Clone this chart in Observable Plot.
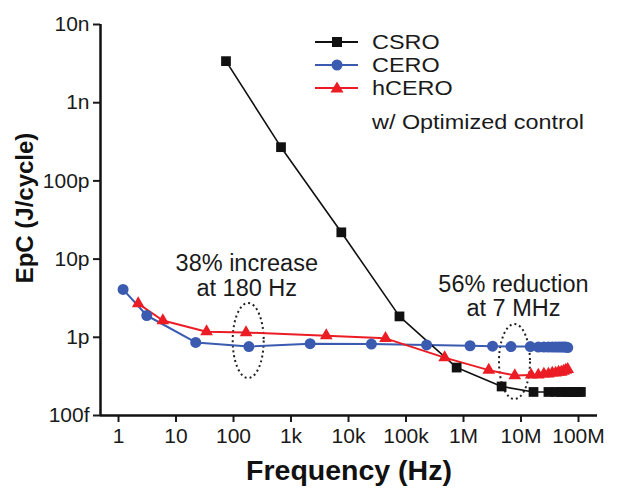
<!DOCTYPE html>
<html>
<head>
<meta charset="utf-8">
<script src="https://cdn.jsdelivr.net/npm/d3@7"></script>
<script src="https://cdn.jsdelivr.net/npm/@observablehq/plot@0.6"></script>
<style>
  body { margin: 0; background: #fff; }
  #wrap { position: relative; width: 621px; height: 493px; }
  .lg-sym { position: absolute; }
  .lg-txt { position: absolute; font-family: "Liberation Sans", Arial, sans-serif; font-size: 20px; line-height: 1; color: #1a1a1a; white-space: nowrap; transform: scaleX(1.17); transform-origin: left center; }
</style>
</head>
<body>
<div id="wrap"></div>
<script>
// ---- data ----
const freqCSRO = [74, 670, 7500, 77e3, 760e3, 4.6e6, 16.5e6, 30e6, 40e6, 50e6, 60e6, 70e6, 80e6, 90e6, 100e6, 110e6];
const epcCSRO  = [3.4e-9, 2.7e-10, 2.2e-11, 1.85e-12, 4.1e-13, 2.35e-13, 2.0e-13, 2.0e-13, 2.0e-13, 2.0e-13, 2.0e-13, 2.0e-13, 2.0e-13, 2.0e-13, 2.0e-13, 2.0e-13];

const freqCERO = [1.2, 3.1, 22, 185, 2150, 25e3, 228e3, 1.3e6, 3.2e6, 6.7e6, 14.5e6, 20e6, 25e6, 30e6, 35e6, 40e6, 45e6, 50e6, 55e6, 60e6, 65e6];
const epcCERO  = [4.1e-12, 1.9e-12, 8.6e-13, 7.6e-13, 8.3e-13, 8.2e-13, 8.0e-13, 7.8e-13, 7.7e-13, 7.6e-13, 7.6e-13, 7.5e-13, 7.5e-13, 7.5e-13, 7.5e-13, 7.5e-13, 7.5e-13, 7.5e-13, 7.5e-13, 7.5e-13, 7.4e-13];

const freqHCERO = [2.2, 5.9, 34, 165, 4100, 44e3, 470e3, 2.75e6, 7.8e6, 15e6, 20e6, 25e6, 30e6, 35e6, 40e6, 45e6, 50e6, 55e6, 60e6, 65e6];
const epcHCERO  = [2.7e-12, 1.64e-12, 1.18e-12, 1.15e-12, 1.05e-12, 9.7e-13, 5.5e-13, 3.8e-13, 3.25e-13, 3.3e-13, 3.3e-13, 3.4e-13, 3.4e-13, 3.5e-13, 3.5e-13, 3.6e-13, 3.6e-13, 3.7e-13, 3.8e-13, 3.9e-13];

const xTicks = [1, 10, 100, 1e3, 1e4, 1e5, 1e6, 1e7, 1e8];
const xTickLabels = ["1", "10", "100", "1k", "10k", "100k", "1M", "10M", "100M"];
const yTicks = [1e-13, 1e-12, 1e-11, 1e-10, 1e-9, 1e-8];
const yTickLabels = ["100f", "1p", "10p", "100p", "1n", "10n"];
const xDomain = [0.486, 2.14e8];
const yDomain = [1e-13, 1e-8];

const noteText = ["38% increase\nat 180 Hz", "56% reduction\nat 7 MHz"];
const noteFreq = [170, 7.4e6];
const noteEpc  = [6.2e-12, 3.37e-12];
const ovalFreq = [180, 7.7e6];
const ovalEpc  = [9.1e-13, 4.9e-13];

const seriesNames = ["CSRO", "CERO", "hCERO"];
const legendNote = "w/ Optimized control";
const seriesColors = ["#111111", "#3a5bb0", "#ec1c24"];

// ---- tables ----
const toRows = (fs, es) => fs.map((f, i) => ({f, e: es[i]}));
const csro = toRows(freqCSRO, epcCSRO);
const cero = toRows(freqCERO, epcCERO);
const hcero = toRows(freqHCERO, epcHCERO);
const notes = noteText.map((t, i) => ({t, f: noteFreq[i], e: noteEpc[i]}));
const ovals = ovalFreq.map((f, i) => ({f, e: ovalEpc[i]}));

function ellipseSymbol(rx, ry) {
  const k = 0.5523;
  return {
    draw(c) {
      c.moveTo(rx, 0);
      c.bezierCurveTo(rx, ry * k, rx * k, ry, 0, ry);
      c.bezierCurveTo(-rx * k, ry, -rx, ry * k, -rx, 0);
      c.bezierCurveTo(-rx, -ry * k, -rx * k, -ry, 0, -ry);
      c.bezierCurveTo(rx * k, -ry, rx, -ry * k, rx, 0);
      c.closePath();
    }
  };
}

const chart = Plot.plot({
  width: 621,
  height: 493,
  marginLeft: 100,
  marginRight: 24,
  marginTop: 24,
  marginBottom: 78,
  style: {fontFamily: "'Liberation Sans', Arial, sans-serif", color: "#1a1a1a", background: "#fff"},
  x: {type: "log", domain: xDomain},
  y: {type: "log", domain: yDomain},
  marks: [
    Plot.axisX({ticks: xTicks, tickFormat: d => xTickLabels[xTicks.indexOf(d)], tickSize: 7, tickPadding: 6, fontSize: 21, strokeWidth: 2, label: null}),
    Plot.axisY({ticks: yTicks, tickFormat: d => yTickLabels[yTicks.indexOf(d)], tickSize: 7, tickPadding: 4, fontSize: 21, strokeWidth: 2, label: null}),
    Plot.ruleY([yDomain[0]], {stroke: "#111", strokeWidth: 2.5}),
    Plot.ruleX([xDomain[0]], {stroke: "#111", strokeWidth: 2.5}),
    Plot.dot(ovals, {x: "f", y: "e", symbol: ellipseSymbol(15.5, 37.5), fill: "none", stroke: "#222", strokeWidth: 2, strokeDasharray: "2,3"}),
    Plot.line(cero, {x: "f", y: "e", stroke: seriesColors[1], strokeWidth: 2}),
    Plot.line(hcero, {x: "f", y: "e", stroke: seriesColors[2], strokeWidth: 2}),
    Plot.line(csro, {x: "f", y: "e", stroke: seriesColors[0], strokeWidth: 1.6}),
    Plot.dot(cero, {x: "f", y: "e", symbol: "circle", r: 5.5, fill: seriesColors[1]}),
    Plot.dot(hcero, {x: "f", y: "e", symbol: "triangle", r: 4.7, fill: seriesColors[2]}),
    Plot.dot(csro, {x: "f", y: "e", symbol: "square", r: 5.5, fill: seriesColors[0]}),
    Plot.text(notes, {x: "f", y: "e", text: "t", fontSize: 23.5, lineHeight: 1.05, textAnchor: "middle", lineAnchor: "middle", fill: "#1a1a1a"}),
    Plot.text(["Frequency (Hz)"], {frameAnchor: "bottom", dy: 55, text: d => d, fontSize: 28.5, fontWeight: "bold", textAnchor: "middle", lineAnchor: "middle", fill: "#111"}),
    Plot.text(["EpC (J/cycle)"], {frameAnchor: "left", dx: -75, dy: -12, rotate: -90, text: d => d, fontSize: 24, fontWeight: "bold", textAnchor: "middle", lineAnchor: "middle", fill: "#111"})
  ]
});

const wrap = document.getElementById("wrap");
wrap.appendChild(chart);

// legend (HTML overlay, inside plot area)
const symbols = ["square", "circle", "triangle"];
const rowCenters = [42, 65, 88];
seriesNames.forEach((name, i) => {
  const c = seriesColors[i];
  let sym;
  if (symbols[i] === "square") sym = `<rect x="17" y="6" width="10" height="10" fill="${c}"/>`;
  else if (symbols[i] === "circle") sym = `<circle cx="22" cy="11" r="5.5" fill="${c}"/>`;
  else sym = `<path d="M22,4.5 L28.5,15.5 L15.5,15.5 Z" fill="${c}"/>`;
  const s = document.createElement("div");
  s.className = "lg-sym";
  s.style.left = "315px";
  s.style.top = (rowCenters[i] - 11) + "px";
  s.innerHTML = `<svg width="44" height="22" style="display:block"><line x1="0" x2="43" y1="11" y2="11" stroke="${c}" stroke-width="2"/>${sym}</svg>`;
  wrap.appendChild(s);
  const t = document.createElement("div");
  t.className = "lg-txt";
  t.style.left = "372px";
  t.style.top = (rowCenters[i] - 10) + "px";
  t.textContent = name;
  wrap.appendChild(t);
});
const note = document.createElement("div");
note.className = "lg-txt";
note.style.left = "372px";
note.style.top = "112px";
note.textContent = legendNote;
wrap.appendChild(note);
</script>
</body>
</html>
